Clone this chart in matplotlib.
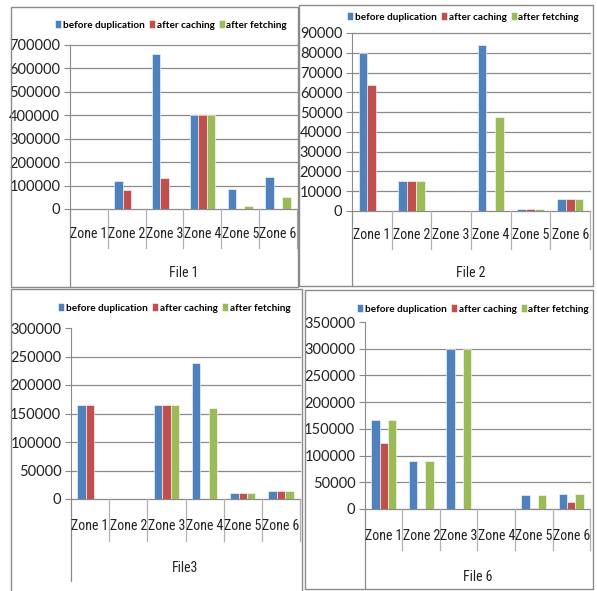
import numpy as np
import matplotlib
matplotlib.use('Agg')
import matplotlib.pyplot as plt
from matplotlib.patches import Rectangle
from matplotlib import transforms
from matplotlib import font_manager

plt.rcParams['font.family'] = ['Lato', 'DejaVu Sans']

# pick a narrow face for the category labels (Excel's Calibri is narrow)
names = set(f.name for f in font_manager.fontManager.ttflist)
narrow = None
for fam in ['Liberation Sans Narrow', 'Roboto Condensed', 'Open Sans Condensed',
            'Noto Sans Condensed', 'DejaVu Sans Condensed']:
    if fam in names:
        narrow = dict(family=fam, size=10)
        break
if narrow is None:
    fp = font_manager.FontProperties(family='DejaVu Sans', stretch='condensed')
    if 'Condensed' in font_manager.findfont(fp, fallback_to_default=False):
        narrow = dict(family='DejaVu Sans', stretch='condensed', size=9.2)
    else:
        narrow = dict(family='Lato', size=8.6)

W, H = 597, 591

zones = ['Zone 1', 'Zone 2', 'Zone 3', 'Zone 4', 'Zone 5', 'Zone 6']
series = ['before duplication', 'after caching', 'after fetching']
colors = ['#4F81BD', '#C0504D', '#9BBB59']

file1_before = [0, 120000, 660000, 400000, 86000, 137000]
file1_caching = [0, 81000, 133000, 400000, 0, 0]
file1_fetching = [0, 0, 0, 400000, 13000, 51000]

file2_before = [80000, 15000, 0, 84000, 900, 6000]
file2_caching = [63800, 15000, 0, 0, 900, 6000]
file2_fetching = [0, 15000, 0, 47500, 900, 6000]

file3_before = [165000, 0, 165000, 239000, 10500, 14000]
file3_caching = [165000, 0, 165000, 0, 10500, 14000]
file3_fetching = [0, 0, 165000, 160000, 10500, 14000]

file6_before = [167000, 90000, 300000, 0, 26000, 28000]
file6_caching = [124000, 0, 0, 0, 2500, 13000]
file6_fetching = [167000, 90000, 300000, 0, 26000, 28000]


def fx(x):
    return x / W


def fy(y):
    return 1 - y / H


# pixel layout of each panel
panels = [
    dict(title='File 1', data=[file1_before, file1_caching, file1_fetching],
         ymax=700000, step=100000, topgrid=True,
         border=(11, 7, 298, 287), plot=(70, 297, 45, 209),
         legend=(171, 25), labels=234, div=248, ftitle=273, axbottom=287),
    dict(title='File 2', data=[file2_before, file2_caching, file2_fetching],
         ymax=90000, step=10000, topgrid=True,
         border=(299, 5, 593, 286), plot=(352, 590, 33, 211),
         legend=(463, 17), labels=235, div=249, ftitle=273, axbottom=286),
    dict(title='File3', data=[file3_before, file3_caching, file3_fetching],
         ymax=300000, step=50000, topgrid=False,
         border=(11, 289, 302, 593), plot=(71, 300, 328, 499),
         legend=(174, 308), labels=526, div=541, ftitle=568, axbottom=581),
    dict(title='File 6', data=[file6_before, file6_caching, file6_fetching],
         ymax=350000, step=50000, topgrid=False,
         border=(305, 290, 593, 589), plot=(365, 590, 322, 509),
         legend=(473, 309), labels=536, div=550, ftitle=577, axbottom=589),
]

fig = plt.figure(figsize=(W / 100, H / 100), dpi=100)
grey = '#8a8a8a'

for p in panels:
    bx0, by0, bx1, by1 = p['border']
    fig.add_artist(Rectangle((fx(bx0), fy(by1)), fx(bx1) - fx(bx0), fy(by0) - fy(by1),
                             transform=fig.transFigure, fill=False, ec=grey, lw=1))
    l, r, t, z = p['plot']
    ax = fig.add_axes([fx(l), fy(z), fx(r) - fx(l), fy(t) - fy(z)])
    ax.patch.set_alpha(0)
    x = np.arange(len(zones))
    w = 1 / 4.5
    for i, (vals, c) in enumerate(zip(p['data'], colors)):
        ax.bar(x + (i - 1) * w, vals, w, color=c, label=series[i], zorder=3,
               edgecolor='white', linewidth=0.4)
    ax.set_xlim(-0.5, 5.5)
    ax.set_ylim(0, p['ymax'])
    ticks = np.arange(0, p['ymax'] + 1, p['step'])
    ax.set_yticks(ticks)
    ax.set_yticklabels([str(int(v)) for v in ticks], fontsize=10.5, color='#222222')
    ax.tick_params(axis='y', length=4, color=grey, pad=3)
    gl = ticks if p['topgrid'] else ticks[:-1]
    for v in gl:
        ax.axhline(v, color=grey, lw=0.9, zorder=1, clip_on=False)
    for s in ['top', 'right', 'bottom']:
        ax.spines[s].set_visible(False)
    ax.spines['left'].set_color(grey)
    ax.set_xticks([])

    tr = transforms.blended_transform_factory(ax.transData, fig.transFigure)
    for k in range(len(zones)):
        ax.text(k, fy(p['labels']), zones[k], transform=tr, ha='center', va='center',
                color='#222222', **narrow)
    for k in range(1, len(zones) + 1):
        ax.plot([k - 0.5, k - 0.5], [fy(z), fy(p['div'])], transform=tr,
                color='#b0b0b0', lw=0.9, clip_on=False)
    tra = transforms.blended_transform_factory(ax.transAxes, fig.transFigure)
    ax.plot([0, 0], [fy(z), fy(p['axbottom'])], transform=tra, color=grey, lw=0.9,
            clip_on=False)
    fig.text(fx((l + r) / 2), fy(p['ftitle']), p['title'], ha='center', va='center',
             color='#222222', **narrow)
    lx, ly = p['legend']
    ax.legend(loc='center', bbox_to_anchor=(fx(lx), fy(ly)), bbox_transform=fig.transFigure,
              ncol=3, frameon=False, handlelength=0.6, handleheight=0.8,
              handletextpad=0.2, columnspacing=0.4, borderpad=0,
              prop=dict(size=7.2, weight='bold'))

fig.savefig('out.png', dpi=100, facecolor='white')
